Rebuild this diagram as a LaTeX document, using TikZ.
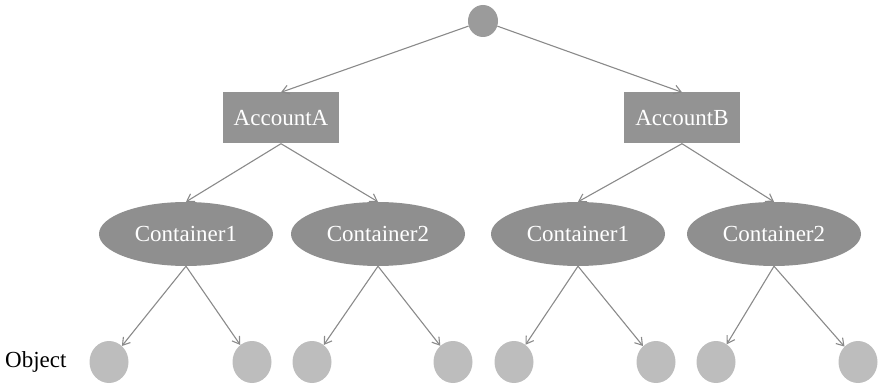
\documentclass[tikz,border=0pt]{standalone}
\usepackage{fontspec}
\setmainfont{Liberation Serif}
\usetikzlibrary{arrows.meta,shapes.geometric}
\definecolor{rootc}{HTML}{9B9B9B}
\definecolor{accc}{HTML}{939393}
\definecolor{contc}{HTML}{8F8F8F}
\definecolor{objc}{HTML}{BDBDBD}
\definecolor{linec}{HTML}{8A8A8A}
\begin{document}
\begin{tikzpicture}[x=1pt,y=-1pt,
  lbl/.style={font=\fontsize{23}{27}\selectfont},
  rootnode/.style={ellipse,fill=rootc,minimum width=30pt,minimum height=32pt,inner sep=0pt},
  accbox/.style={rectangle,fill=accc,minimum width=116pt,minimum height=51pt,inner sep=0pt,text=white,lbl},
  contell/.style={ellipse,fill=contc,minimum width=174pt,minimum height=64pt,inner sep=0pt,text=white,lbl},
  objnode/.style={ellipse,fill=objc,minimum width=39pt,minimum height=42pt,inner sep=0pt},
  conn/.style={draw=linec,line width=1.1pt,-{Straight Barb[length=7pt,width=9pt,line width=1.1pt]}}
]
\useasboundingbox (0,0) rectangle (878,387);
\node[rootnode] (root) at (483,21) {};
\node[accbox] (accA) at (281,118) {AccountA};
\node[accbox] (accB) at (682,118) {AccountB};
\node[contell] (cA1) at (186,234) {Container1};
\node[contell] (cA2) at (378,234) {Container2};
\node[contell] (cB1) at (578,234) {Container1};
\node[contell] (cB2) at (774,234) {Container2};
\node[objnode] (o1) at (109,362) {};
\node[objnode] (o2) at (252,362) {};
\node[objnode] (o3) at (312,362) {};
\node[objnode] (o4) at (453,362) {};
\node[objnode] (o5) at (514,362) {};
\node[objnode] (o6) at (656,362) {};
\node[objnode] (o7) at (716,362) {};
\node[objnode] (o8) at (858,362) {};
\node[lbl,anchor=west,inner sep=0pt] (objlbl) at (5,362) {Object};
\draw[conn] (root) -- (accA.north);
\draw[conn] (root) -- (accB.north);
\draw[conn] (accA.south) -- (cA1.north);
\draw[conn] (accA.south) -- (cA2.north);
\draw[conn] (accB.south) -- (cB1.north);
\draw[conn] (accB.south) -- (cB2.north);
\draw[conn] (cA1.south) -- (o1);
\draw[conn] (cA1.south) -- (o2);
\draw[conn] (cA2.south) -- (o3);
\draw[conn] (cA2.south) -- (o4);
\draw[conn] (cB1.south) -- (o5);
\draw[conn] (cB1.south) -- (o6);
\draw[conn] (cB2.south) -- (o7);
\draw[conn] (cB2.south) -- (o8);
\end{tikzpicture}
\end{document}
